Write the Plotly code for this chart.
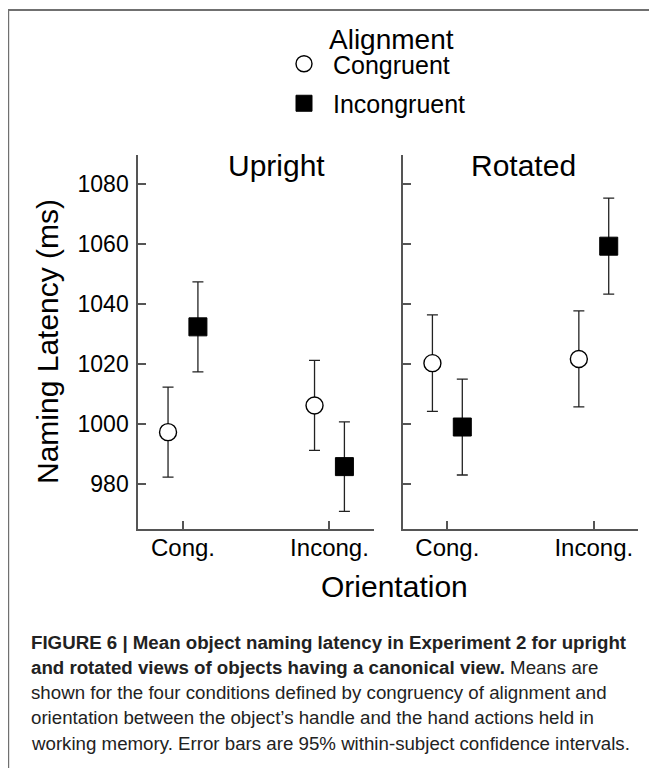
import plotly.graph_objects as go

# ---------------- data ----------------
orientation_labels = ["Cong.", "Incong."]
alignment_names = ["Congruent", "Incongruent"]
legend_title = "Alignment"

upright_congruent = [997.4, 1006.3]
upright_incongruent = [1032.5, 985.9]
upright_congruent_ci = [15.0, 15.0]
upright_incongruent_ci = [15.0, 14.9]

rotated_congruent = [1020.4, 1021.8]
rotated_incongruent = [999.1, 1059.4]
rotated_congruent_ci = [16.1, 16.0]
rotated_incongruent_ci = [16.0, 16.0]

y_tick_values = [980, 1000, 1020, 1040, 1060, 1080]
panel_titles = ["Upright", "Rotated"]

caption_lines = [
    "<b>FIGURE 6 | Mean object naming latency in Experiment 2 for upright</b>",
    "<b>and rotated views of objects having a canonical view.</b> Means are",
    "shown for the four conditions defined by congruency of alignment and",
    "orientation between the object\u2019s handle and the hand actions held in",
    "working memory. Error bars are 95% within-subject confidence intervals.",
]

# ---------------- styling ----------------
W, H = 657, 768
PAGE_OFFSET = 8  # default body margin of the html page
FONT = "Liberation Sans, Arial, Helvetica, sans-serif"
AXIS_COLOR = "#555555"
DODGE = 0.102
base_x = list(range(len(orientation_labels)))


def px_x(p):
    return (p - PAGE_OFFSET) / W


def px_y(p):
    return 1 - (p - PAGE_OFFSET) / H


fig = go.Figure()


def add_series(values, ci, name, xaxis, yaxis, congruent, show):
    shift = -DODGE if congruent else DODGE
    fig.add_trace(go.Scatter(
        x=[b + shift for b in base_x],
        y=values,
        mode="markers",
        name=name,
        legendgroup=name,
        showlegend=show,
        xaxis=xaxis,
        yaxis=yaxis,
        marker=dict(
            symbol="circle" if congruent else "square",
            size=17 if congruent else 18,
            color="white" if congruent else "black",
            line=dict(color="black", width=1.4 if congruent else 1),
        ),
        error_y=dict(type="data", array=ci, visible=True,
                     color="#222222", thickness=1.3, width=5.5),
        hoverinfo="skip",
    ))


add_series(upright_congruent, upright_congruent_ci, alignment_names[0], "x", "y", True, True)
add_series(upright_incongruent, upright_incongruent_ci, alignment_names[1], "x", "y", False, True)
add_series(rotated_congruent, rotated_congruent_ci, alignment_names[0], "x2", "y2", True, False)
add_series(rotated_incongruent, rotated_incongruent_ci, alignment_names[1], "x2", "y2", False, False)

y_dom = [px_y(529.3), px_y(155)]
x_range = [-0.305, 1.304]
y_range = [965, 1089.8]

xaxis_common = dict(
    range=x_range, tickmode="array", tickvals=base_x, ticktext=orientation_labels,
    ticks="inside", ticklen=8, tickwidth=1.5, tickcolor=AXIS_COLOR,
    showline=True, linecolor=AXIS_COLOR, linewidth=2,
    showgrid=False, zeroline=False,
    tickfont=dict(family=FONT, size=24, color="black"),
    ticklabelstandoff=-4,
)
yaxis_common = dict(
    range=y_range, tickmode="array", tickvals=y_tick_values,
    ticks="inside", ticklen=8, tickwidth=1.5, tickcolor=AXIS_COLOR,
    showline=True, linecolor=AXIS_COLOR, linewidth=2,
    showgrid=False, zeroline=False, domain=y_dom,
    tickfont=dict(family=FONT, size=23, color="black"),
)

fig.update_layout(
    width=W, height=H, autosize=False,
    margin=dict(l=0, r=0, t=0, b=0),
    paper_bgcolor="white", plot_bgcolor="white",
    font=dict(family=FONT, color="black"),
    xaxis=dict(domain=[px_x(138.3), px_x(374)], anchor="y", **xaxis_common),
    xaxis2=dict(domain=[px_x(402.7), px_x(638.3)], anchor="y2", **xaxis_common),
    yaxis=dict(anchor="x", ticklabelstandoff=3, **yaxis_common),
    yaxis2=dict(anchor="x2", showticklabels=False, **yaxis_common),
    showlegend=True,
    legend=dict(
        font=dict(family=FONT, size=25, color="black"),
        x=px_x(275), xanchor="left", y=px_y(41), yanchor="top",
        bgcolor="rgba(0,0,0,0)", itemwidth=48, itemclick=False,
        itemdoubleclick=False, tracegroupgap=4,
    ),
)

annotations = [
    dict(text=legend_title, x=px_x(391.7), y=px_y(39.5), size=28),
    dict(text=panel_titles[0], x=px_x(276), y=px_y(165), size=30),
    dict(text=panel_titles[1], x=px_x(523), y=px_y(165), size=30),
    dict(text="Orientation", x=px_x(394), y=px_y(586), size=30),
    dict(text="Naming Latency (ms)", x=px_x(48), y=px_y(342), size=30, textangle=-90),
]
for a in annotations:
    size = a.pop("size")
    fig.add_annotation(xref="paper", yref="paper", showarrow=False,
                       xanchor="center", yanchor="middle",
                       font=dict(family=FONT, size=size, color="black"), **a)

for i, line in enumerate(caption_lines):
    fig.add_annotation(xref="paper", yref="paper", showarrow=False,
                       x=px_x(29), y=px_y(642 + 25.25 * i),
                       xanchor="left", yanchor="middle", align="left",
                       text=line,
                       font=dict(family=FONT, size=18.7, color="#222222"))

# outer frame of the figure panel
fig.add_shape(type="rect", xref="paper", yref="paper",
              x0=px_x(8.3), x1=1.2, y0=-0.2, y1=px_y(10),
              line=dict(color="#707070", width=1.8), fillcolor="rgba(0,0,0,0)",
              layer="below")

fig.write_html("out.html")
